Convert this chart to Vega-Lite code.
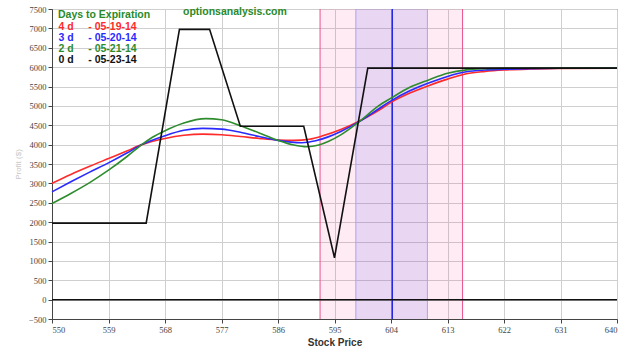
{
  "$schema": "https://vega.github.io/schema/vega-lite/v6.json",
  "width": 565,
  "height": 310,
  "autosize": {"type": "none"},
  "padding": {"left": 52, "top": 9, "right": 19, "bottom": 40},
  "background": "white",
  "title": {
    "text": "optionsanalysis.com",
    "anchor": "start",
    "frame": "group",
    "dx": 131,
    "offset": -12,
    "font": "Liberation Sans",
    "fontSize": 10.5,
    "fontWeight": "bold",
    "color": "#2a8a2a"
  },
  "config": {
    "view": {"stroke": "#555", "strokeWidth": 1},
    "axis": {
      "labelFont": "Liberation Sans Narrow",
      "labelFontSize": 8.5,
      "labelColor": "#444",
      "domainColor": "#444",
      "tickColor": "#444",
      "tickSize": 4,
      "gridColor": "#cfcfcf",
      "gridWidth": 1,
      "labelOverlap": false,
      "labelPadding": 2
    },
    "axisY": {
      "titleFont": "Liberation Sans",
      "titleFontSize": 8,
      "titleFontWeight": "normal",
      "titleColor": "#c8c8c8",
      "titlePadding": 6
    },
    "axisX": {
      "titleFont": "Liberation Sans",
      "titleFontSize": 10,
      "titleFontWeight": "bold",
      "titleColor": "#333",
      "titlePadding": 4
    }
  },
  "datasets": {
    "curves": [
      {"price": 550, "profit": 3000, "series": "4 d"},
      {"price": 553, "profit": 3230, "series": "4 d"},
      {"price": 556, "profit": 3440, "series": "4 d"},
      {"price": 559, "profit": 3640, "series": "4 d"},
      {"price": 562, "profit": 3840, "series": "4 d"},
      {"price": 564.3, "profit": 4000, "series": "4 d"},
      {"price": 568, "profit": 4160, "series": "4 d"},
      {"price": 571, "profit": 4240, "series": "4 d"},
      {"price": 574, "profit": 4270, "series": "4 d"},
      {"price": 577, "profit": 4255, "series": "4 d"},
      {"price": 580, "profit": 4210, "series": "4 d"},
      {"price": 583, "profit": 4160, "series": "4 d"},
      {"price": 586, "profit": 4120, "series": "4 d"},
      {"price": 588.5, "profit": 4110, "series": "4 d"},
      {"price": 591, "profit": 4140, "series": "4 d"},
      {"price": 593, "profit": 4220, "series": "4 d"},
      {"price": 596, "profit": 4390, "series": "4 d"},
      {"price": 599, "profit": 4610, "series": "4 d"},
      {"price": 602, "profit": 4880, "series": "4 d"},
      {"price": 604, "profit": 5090, "series": "4 d"},
      {"price": 607, "profit": 5330, "series": "4 d"},
      {"price": 610, "profit": 5520, "series": "4 d"},
      {"price": 613, "profit": 5690, "series": "4 d"},
      {"price": 616, "profit": 5830, "series": "4 d"},
      {"price": 619, "profit": 5890, "series": "4 d"},
      {"price": 622, "profit": 5925, "series": "4 d"},
      {"price": 626, "profit": 5950, "series": "4 d"},
      {"price": 631, "profit": 5965, "series": "4 d"},
      {"price": 640, "profit": 5975, "series": "4 d"},
      {"price": 550, "profit": 2780, "series": "3 d"},
      {"price": 553, "profit": 3040, "series": "3 d"},
      {"price": 556, "profit": 3290, "series": "3 d"},
      {"price": 559, "profit": 3530, "series": "3 d"},
      {"price": 562, "profit": 3790, "series": "3 d"},
      {"price": 564.3, "profit": 4000, "series": "3 d"},
      {"price": 568, "profit": 4230, "series": "3 d"},
      {"price": 571, "profit": 4370, "series": "3 d"},
      {"price": 574, "profit": 4420, "series": "3 d"},
      {"price": 577, "profit": 4400, "series": "3 d"},
      {"price": 580, "profit": 4320, "series": "3 d"},
      {"price": 583, "profit": 4210, "series": "3 d"},
      {"price": 586, "profit": 4110, "series": "3 d"},
      {"price": 589.8, "profit": 4050, "series": "3 d"},
      {"price": 592, "profit": 4100, "series": "3 d"},
      {"price": 594, "profit": 4200, "series": "3 d"},
      {"price": 596, "profit": 4340, "series": "3 d"},
      {"price": 599, "profit": 4600, "series": "3 d"},
      {"price": 602, "profit": 4920, "series": "3 d"},
      {"price": 604, "profit": 5130, "series": "3 d"},
      {"price": 607, "profit": 5390, "series": "3 d"},
      {"price": 610, "profit": 5590, "series": "3 d"},
      {"price": 613, "profit": 5760, "series": "3 d"},
      {"price": 616, "profit": 5880, "series": "3 d"},
      {"price": 619, "profit": 5925, "series": "3 d"},
      {"price": 622, "profit": 5945, "series": "3 d"},
      {"price": 626, "profit": 5962, "series": "3 d"},
      {"price": 631, "profit": 5972, "series": "3 d"},
      {"price": 640, "profit": 5975, "series": "3 d"},
      {"price": 550, "profit": 2480, "series": "2 d"},
      {"price": 553, "profit": 2740, "series": "2 d"},
      {"price": 556, "profit": 3020, "series": "2 d"},
      {"price": 559, "profit": 3340, "series": "2 d"},
      {"price": 562, "profit": 3700, "series": "2 d"},
      {"price": 564.3, "profit": 4000, "series": "2 d"},
      {"price": 566, "profit": 4190, "series": "2 d"},
      {"price": 568, "profit": 4360, "series": "2 d"},
      {"price": 571, "profit": 4560, "series": "2 d"},
      {"price": 574.5, "profit": 4670, "series": "2 d"},
      {"price": 577, "profit": 4640, "series": "2 d"},
      {"price": 580, "profit": 4490, "series": "2 d"},
      {"price": 583, "profit": 4300, "series": "2 d"},
      {"price": 586, "profit": 4110, "series": "2 d"},
      {"price": 588.5, "profit": 3990, "series": "2 d"},
      {"price": 590.6, "profit": 3945, "series": "2 d"},
      {"price": 592.5, "profit": 3990, "series": "2 d"},
      {"price": 594, "profit": 4080, "series": "2 d"},
      {"price": 596, "profit": 4250, "series": "2 d"},
      {"price": 599, "profit": 4600, "series": "2 d"},
      {"price": 602, "profit": 5000, "series": "2 d"},
      {"price": 604, "profit": 5200, "series": "2 d"},
      {"price": 607, "profit": 5480, "series": "2 d"},
      {"price": 610, "profit": 5670, "series": "2 d"},
      {"price": 613, "profit": 5840, "series": "2 d"},
      {"price": 616, "profit": 5930, "series": "2 d"},
      {"price": 619, "profit": 5960, "series": "2 d"},
      {"price": 622, "profit": 5970, "series": "2 d"},
      {"price": 631, "profit": 5975, "series": "2 d"},
      {"price": 640, "profit": 5975, "series": "2 d"}
    ],
    "expiry": [
      {"price": 550, "profit": 1975, "series": "0 d"},
      {"price": 565, "profit": 1975, "series": "0 d"},
      {"price": 570.3, "profit": 6975, "series": "0 d"},
      {"price": 575.1, "profit": 6975, "series": "0 d"},
      {"price": 580, "profit": 4475, "series": "0 d"},
      {"price": 590.1, "profit": 4475, "series": "0 d"},
      {"price": 595, "profit": 1080, "series": "0 d"},
      {"price": 600.3, "profit": 5975, "series": "0 d"},
      {"price": 640, "profit": 5975, "series": "0 d"}
    ],
    "bands": [
      {"band": "outer", "lo": 592.7, "hi": 615.4},
      {"band": "inner", "lo": 598.4, "hi": 609.8}
    ],
    "current": [{"price": 604.2}],
    "zero": [{"profit": 0}]
  },
  "layer": [
    {
      "data": {"name": "bands"},
      "transform": [{"filter": "datum.band == 'outer'"}],
      "mark": {"type": "rect", "color": "#ff3c8c", "opacity": 0.1},
      "encoding": {
        "x": {"field": "lo", "type": "quantitative", "scale": {"domain": [550, 640], "nice": false, "zero": false},
          "axis": {"title": "Stock Price", "values": [550, 559, 568, 577, 586, 595, 604, 613, 622, 631, 640]}},
        "x2": {"field": "hi"}
      }
    },
    {
      "data": {"name": "bands"},
      "transform": [{"filter": "datum.band == 'inner'"}],
      "mark": {"type": "rect", "color": "#4a40f0", "opacity": 0.12},
      "encoding": {
        "x": {"field": "lo", "type": "quantitative", "axis": {"title": "Stock Price", "values": [550, 559, 568, 577, 586, 595, 604, 613, 622, 631, 640]}},
        "x2": {"field": "hi"}
      }
    },
    {
      "data": {"name": "bands"},
      "transform": [{"filter": "datum.band == 'outer'"}, {"fold": ["lo", "hi"], "as": ["edge", "pos"]}],
      "mark": {"type": "rule", "color": "#e8508a", "strokeWidth": 1},
      "encoding": {"x": {"field": "pos", "type": "quantitative", "axis": {"title": "Stock Price", "values": [550, 559, 568, 577, 586, 595, 604, 613, 622, 631, 640]}}}
    },
    {
      "data": {"name": "bands"},
      "transform": [{"filter": "datum.band == 'inner'"}, {"fold": ["lo", "hi"], "as": ["edge", "pos"]}],
      "mark": {"type": "rule", "color": "#a8a4f4", "strokeWidth": 1},
      "encoding": {"x": {"field": "pos", "type": "quantitative", "axis": {"title": "Stock Price", "values": [550, 559, 568, 577, 586, 595, 604, 613, 622, 631, 640]}}}
    },
    {
      "data": {"name": "current"},
      "mark": {"type": "rule", "color": "#2626e6", "strokeWidth": 1.5},
      "encoding": {"x": {"field": "price", "type": "quantitative", "axis": {"title": "Stock Price", "values": [550, 559, 568, 577, 586, 595, 604, 613, 622, 631, 640]}}}
    },
    {
      "data": {"name": "zero"},
      "mark": {"type": "rule", "color": "#111", "strokeWidth": 1.5},
      "encoding": {"y": {"field": "profit", "type": "quantitative", "scale": {"domain": [-500, 7500], "nice": false, "zero": false},
        "axis": {"title": "Profit ($)", "format": "d", "values": [-500, 0, 500, 1000, 1500, 2000, 2500, 3000, 3500, 4000, 4500, 5000, 5500, 6000, 6500, 7000, 7500]}}}
    },
    {
      "data": {"name": "curves"},
      "mark": {"type": "line", "interpolate": "monotone", "strokeWidth": 1.6},
      "encoding": {
        "x": {"field": "price", "type": "quantitative", "axis": {"title": "Stock Price", "values": [550, 559, 568, 577, 586, 595, 604, 613, 622, 631, 640]}},
        "y": {"field": "profit", "type": "quantitative", "axis": {"title": "Profit ($)", "format": "d", "values": [-500, 0, 500, 1000, 1500, 2000, 2500, 3000, 3500, 4000, 4500, 5000, 5500, 6000, 6500, 7000, 7500]}},
        "color": {
          "field": "series", "type": "nominal",
          "scale": {"domain": ["4 d", "3 d", "2 d", "0 d"], "range": ["#ff2a2a", "#2a2aff", "#2e8b2e", "#111111"]},
          "legend": {
            "orient": "none",
            "legendX": 6,
            "legendY": 1,
            "title": "Days to Expiration",
            "titleFont": "Liberation Sans",
            "titleFontSize": 10.5,
            "titleFontWeight": "bold",
            "titleColor": "#2a8a2a",
            "titlePadding": 1,
            "symbolSize": 0,
            "symbolStrokeWidth": 0,
            "symbolOpacity": 0,
            "labelOffset": -10,
            "rowPadding": 0,
            "labelFont": "Liberation Sans",
            "labelFontSize": 10.5,
            "labelFontWeight": "bold",
            "labelExpr": "datum.label + '\u00a0\u00a0\u00a0\u00a0\u00a0- ' + (datum.label == '4 d' ? '05-19-14' : datum.label == '3 d' ? '05-20-14' : datum.label == '2 d' ? '05-21-14' : '05-23-14')",
            "encode": {"labels": {"update": {"fill": {"scale": "color", "field": "value"}}}}
          }
        }
      }
    },
    {
      "data": {"name": "expiry"},
      "mark": {"type": "line", "strokeWidth": 1.6},
      "encoding": {
        "x": {"field": "price", "type": "quantitative", "axis": {"title": "Stock Price", "values": [550, 559, 568, 577, 586, 595, 604, 613, 622, 631, 640]}},
        "y": {"field": "profit", "type": "quantitative", "axis": {"title": "Profit ($)", "format": "d", "values": [-500, 0, 500, 1000, 1500, 2000, 2500, 3000, 3500, 4000, 4500, 5000, 5500, 6000, 6500, 7000, 7500]}},
        "color": {"field": "series", "type": "nominal"}
      }
    }
  ]
}
